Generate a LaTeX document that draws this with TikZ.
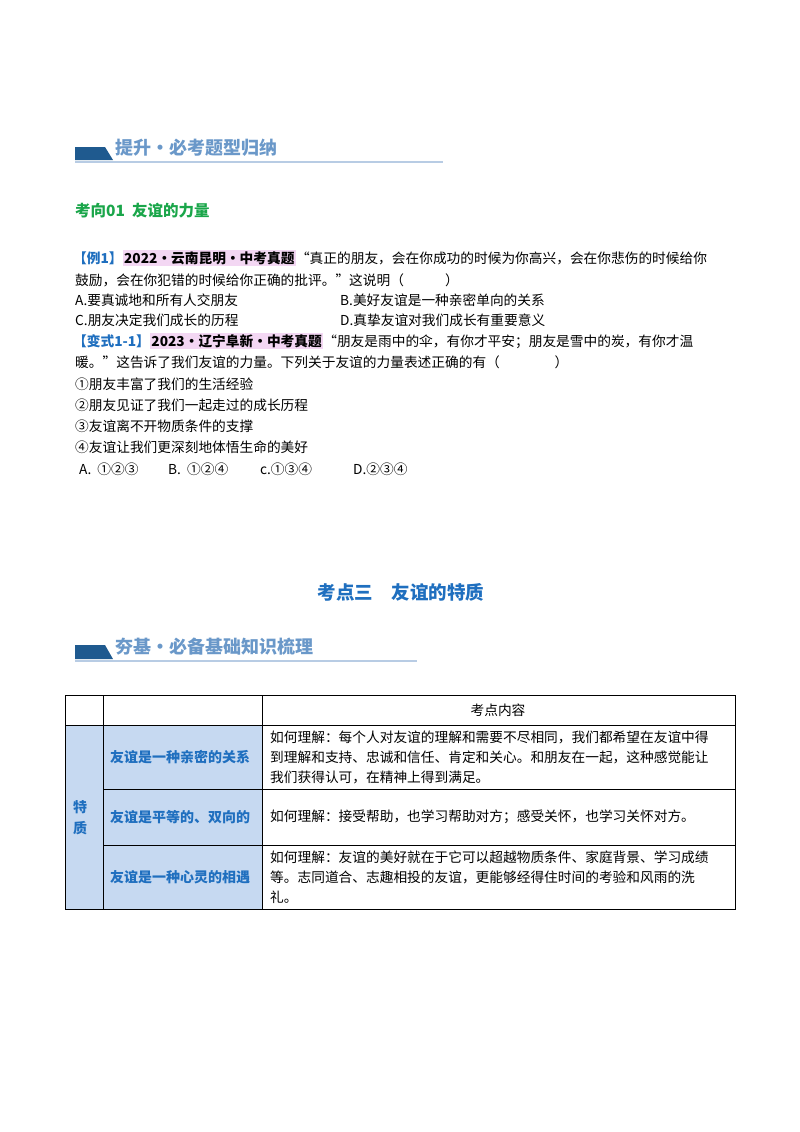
\documentclass[tikz,border=0pt]{standalone}
\usepackage{fontspec}
\setmainfont{Noto Sans CJK SC}
\definecolor{hdblue}{HTML}{1F5A8F}
\definecolor{hdtext}{HTML}{6A98C9}
\definecolor{hdline}{HTML}{B8CCE4}
\definecolor{grn}{HTML}{1AA64A}
\definecolor{exblue}{HTML}{1F6FBF}
\definecolor{pinkbg}{HTML}{F3D7F3}
\definecolor{cellbg}{HTML}{C6D9F1}
\definecolor{lbl}{HTML}{1F6FBF}
\newcommand\pinkhl[1]{{\setlength\fboxsep{1.5pt}\colorbox{pinkbg}{\textbf{#1}}}}
\tikzset{x=1pt,y=-1pt,
 txt/.style={anchor=west,inner sep=0pt,font=\fontsize{13.7}{16}\selectfont},
 hd/.style={anchor=west,inner sep=0pt,text=hdtext,font=\fontsize{18}{20}\selectfont\bfseries},
 lab/.style={anchor=west,inner sep=0pt,text=lbl,font=\fontsize{14}{16}\selectfont\bfseries}}
\begin{document}
\begin{tikzpicture}
\useasboundingbox[fill=white] (0,0) rectangle (800,1132);
% header 1
\fill[hdblue] (75,147) -- (105,147) -- (113,160) -- (75,160) -- cycle;
\node[hd] (h1) at (115,148) {提升·必考题型归纳};
\draw[hdline,line width=1.2pt] (75,162) -- (443,162);
\node[anchor=west,inner sep=0pt,text=grn,font=\fontsize{15.5}{17}\selectfont\bfseries] (k1) at (75,211) {考向01\ \ 友谊的力量};
% example 1
\node[txt] (l1) at (73,258) {\textcolor{exblue}{\bfseries【例1】}\pinkhl{2022·云南昆明·中考真题}“真正的朋友，会在你成功的时候为你高兴，会在你悲伤的时候给你};
\node[txt] (l2) at (75,280) {鼓励，会在你犯错的时候给你正确的批评。”这说明（\hspace{3em}）};
\node[txt] (a1) at (75,300) {A.要真诚地和所有人交朋友};
\node[txt] (b1) at (340,300) {B.美好友谊是一种亲密单向的关系};
\node[txt] (c1) at (75,320) {C.朋友决定我们成长的历程};
\node[txt] (d1) at (340,320) {D.真挚友谊对我们成长有重要意义};
\node[txt] (l3) at (73,341) {\textcolor{exblue}{\bfseries【变式1-1】}\pinkhl{2023·辽宁阜新·中考真题}“朋友是雨中的伞，有你才平安；朋友是雪中的炭，有你才温};
\node[txt] (l4) at (75,362) {暖。”这告诉了我们友谊的力量。下列关于友谊的力量表述正确的有（\hspace{4em}）};
\node[txt] (o1) at (75,384) {①朋友丰富了我们的生活经验};
\node[txt] (o2) at (75,405) {②朋友见证了我们一起走过的成长历程};
\node[txt] (o3) at (75,426) {③友谊离不开物质条件的支撑};
\node[txt] (o4) at (75,447) {④友谊让我们更深刻地体悟生命的美好};
\node[txt] (ansA) at (79,469) {A.\ \ ①②③};
\node[txt] (ansB) at (168,469) {B.\ \ ①②④};
\node[txt] (ansC) at (260,469) {c.①③④};
\node[txt] (ansD) at (353,469) {D.②③④};
% title
\node[inner sep=0pt,text=exblue,font=\fontsize{18.5}{21}\selectfont\bfseries] (t) at (401,592) {考点三\quad 友谊的特质};
% header 2
\fill[hdblue] (75,645) -- (105,645) -- (113,659) -- (75,659) -- cycle;
\node[hd] (h2) at (115,647) {夯基·必备基础知识梳理};
\draw[hdline,line width=1.2pt] (75,661) -- (417,661);
% table
\fill[cellbg] (65,725) rectangle (262,909);
\draw[line width=0.8pt] (65,695) rectangle (735,909);
\draw[line width=0.8pt] (65,725) -- (735,725);
\draw[line width=0.8pt] (103,789) -- (735,789) (103,845) -- (735,845);
\draw[line width=0.8pt] (103,695) -- (103,909) (262,695) -- (262,909);
\node[inner sep=0pt,font=\fontsize{13.7}{16}\selectfont] (hc) at (498,710) {考点内容};
\node[lab] (tz1) at (73,807) {特};
\node[lab] (tz2) at (73,828) {质};
\node[lab] (r1) at (110,757) {友谊是一种亲密的关系};
\node[lab] (r2) at (110,817) {友谊是平等的、双向的};
\node[lab] (r3) at (110,877) {友谊是一种心灵的相遇};
\node[txt] (c11) at (270,737) {如何理解：每个人对友谊的理解和需要不尽相同，我们都希望在友谊中得};
\node[txt] (c12) at (270,757) {到理解和支持、忠诚和信任、肯定和关心。和朋友在一起，这种感觉能让};
\node[txt] (c13) at (270,777) {我们获得认可，在精神上得到满足。};
\node[txt] (c2) at (270,817) {如何理解：接受帮助，也学习帮助对方；感受关怀，也学习关怀对方。};
\node[txt] (c31) at (270,857) {如何理解：友谊的美好就在于它可以超越物质条件、家庭背景、学习成绩};
\node[txt] (c32) at (270,877) {等。志同道合、志趣相投的友谊，更能够经得住时间的考验和风雨的洗};
\node[txt] (c33) at (270,897) {礼。};
\end{tikzpicture}
\end{document}
